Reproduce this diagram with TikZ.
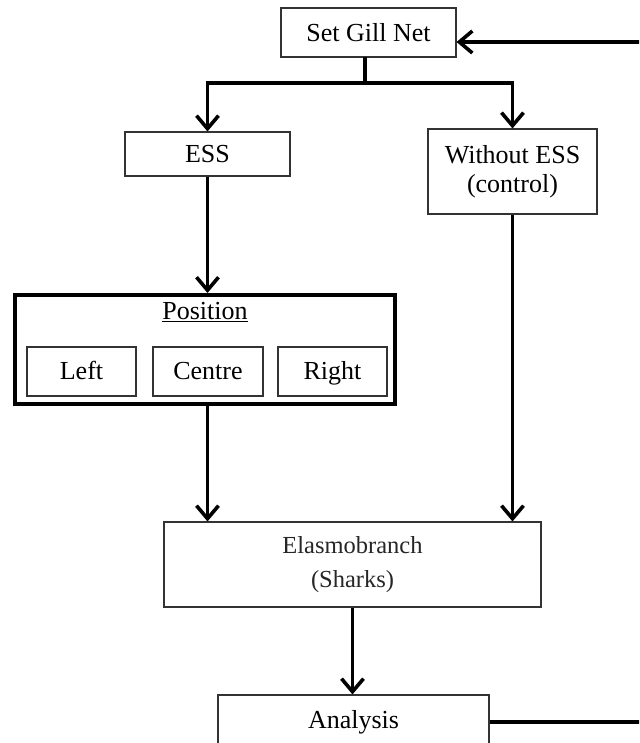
\documentclass[tikz,border=0pt]{standalone}
\usepackage{fontspec}
\setmainfont{Liberation Serif}
\usetikzlibrary{arrows.meta}
\begin{document}
\begin{tikzpicture}[x=1pt,y=1pt,
  box/.style={draw=black!80, line width=1.1pt, inner sep=0pt, align=center,
    font=\fontsize{26}{28}\selectfont, fill=white},
  posbox/.style={box, minimum height=49pt, text height=20pt, text depth=4pt},
  thickbox/.style={draw=black, line width=4pt, inner sep=0pt},
  conn/.style={line width=3.2pt, line cap=butt},
  arr/.style={conn, -{Straight Barb[length=13pt,width=22pt,line width=3.6pt]}}]
\clip (0,0) rectangle (639,-743);
\fill[white] (0,0) rectangle (639,-743);
% nodes
\node[box, minimum width=175pt, minimum height=49pt] (net) at (368.5,-32.5) {Set Gill Net};
\node[box, minimum width=165pt, minimum height=44pt] (ess) at (207.5,-154) {ESS};
\node[box, minimum width=169pt, minimum height=85pt] (woess) at (512.5,-171.5) {Without ESS\\[1pt](control)};
\node[thickbox, minimum width=380pt, minimum height=109pt] (pos) at (205,-349.5) {};
\node[font=\fontsize{26}{28}\selectfont] (postitle) at (205,-312) {\underline{Position}};
\node[posbox, minimum width=109pt] (left) at (81.5,-371.5) {Left};
\node[posbox, minimum width=110pt] (centre) at (208,-371.5) {Centre};
\node[posbox, minimum width=109pt] (right) at (332.5,-371.5) {Right};
\node[box, minimum width=377pt, minimum height=85pt, text=black!85,
  font=\fontsize{24.5}{34}\selectfont] (elas) at (352.5,-564.5) {Elasmobranch\\(Sharks)};
\node[box, minimum width=271pt, minimum height=54pt] (ana) at (353.5,-722) {\raisebox{3pt}{Analysis}};
% connectors
\coordinate (split) at (365,-83);
\draw[conn] (365,-57) -- (split);
\draw[arr] (split) -| (ess.north);
\draw[arr] (split) -| (woess.north);
\draw[arr] (ess.south) -- (ess.south |- pos.north);
\draw[arr] (ess.south |- pos.south) -- (ess.south |- elas.north);
\draw[arr] (woess.south) -- (woess.south |- elas.north);
\draw[arr] (elas.south) -- (elas.south |- ana.north);
\coordinate (loopb) at (660,-722);
\coordinate (loopt) at (660,-42);
\draw[arr] (ana.east) -- (loopb) -- (loopt) -- ([yshift=-9.5pt]net.east);
\end{tikzpicture}
\end{document}
